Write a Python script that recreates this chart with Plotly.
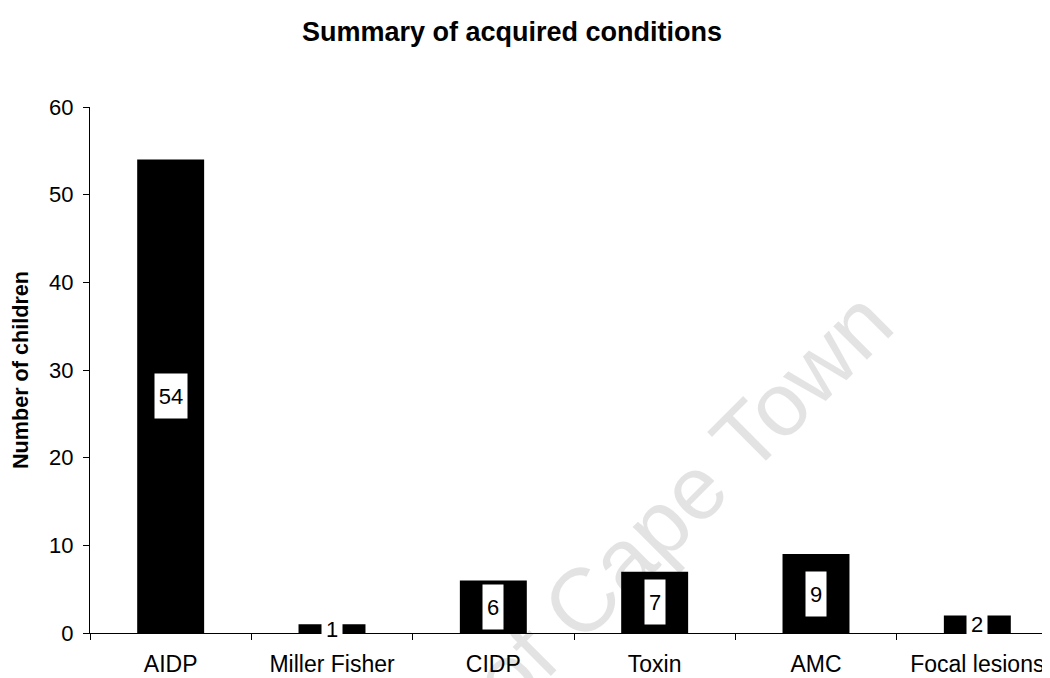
import plotly.graph_objects as go

categories = ["AIDP", "Miller Fisher", "CIDP", "Toxin", "AMC", "Focal lesions"]
children = [54, 1, 6, 7, 9, 2]

FONT = "Liberation Sans, Arial, sans-serif"

fig = go.Figure()

fig.add_trace(go.Bar(
    x=categories,
    y=children,
    width=0.415,
    marker=dict(color="black", line=dict(width=0)),
    hoverinfo="x+y",
))

# faint watermark across the plot
fig.add_annotation(
    text="University of Cape Town",
    xref="paper", yref="paper",
    x=0.4586, y=-0.0305,
    xanchor="center", yanchor="middle",
    textangle=-45,
    showarrow=False,
    font=dict(family=FONT, size=90, color="rgba(0,0,0,0.11)"),
)

# value labels in white boxes, centred half way up each bar
for cat, val in zip(categories, children):
    fig.add_annotation(
        x=cat, y=val / 2,
        text=str(val),
        showarrow=False,
        bgcolor="white",
        borderpad=0,
        width=12 * len(str(val)) + 8,
        height=44,
        font=dict(family=FONT, size=22, color="black"),
    )

fig.update_layout(
    width=1050, height=678,
    title=dict(
        text="<b>Summary of acquired conditions</b>",
        x=0.480, xanchor="center", y=0.966, yanchor="middle",
        font=dict(family=FONT, size=27, color="black"),
    ),
    font=dict(family=FONT, size=23, color="black"),
    plot_bgcolor="white",
    paper_bgcolor="white",
    showlegend=False,
    margin=dict(l=82, r=0, t=99, b=53),
)

fig.update_xaxes(
    range=[-0.5, 5.5],
    showline=True, linecolor="black", linewidth=1,
    ticks="outside", ticklen=6, tickcolor="black",
    tickson="boundaries",
    ticklabelstandoff=10,
    showgrid=False,
    tickfont=dict(family=FONT, size=23, color="black"),
)

fig.update_yaxes(
    range=[0, 60], dtick=10,
    showline=True, linecolor="black", linewidth=1,
    ticks="outside", ticklen=6, tickcolor="black",
    ticklabelstandoff=5,
    showgrid=False, zeroline=False,
    tickfont=dict(family=FONT, size=22, color="black"),
    title=dict(text="<b>Number of children</b>", standoff=14,
               font=dict(family=FONT, size=21.6, color="black")),
)

fig.write_html("out.html")
